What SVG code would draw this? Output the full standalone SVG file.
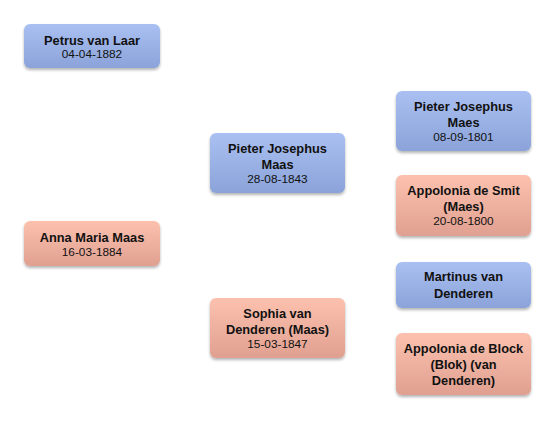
<svg xmlns="http://www.w3.org/2000/svg" width="556" height="421" viewBox="0 0 556 421">
<defs>
<linearGradient id="gb" x1="0" y1="0" x2="0" y2="1"><stop offset="0" stop-color="#aac0f2"/><stop offset="1" stop-color="#8ba3d9"/></linearGradient>
<linearGradient id="gp" x1="0" y1="0" x2="0" y2="1"><stop offset="0" stop-color="#fcc1ae"/><stop offset="1" stop-color="#e0a091"/></linearGradient>
<filter id="sh" x="-10%" y="-10%" width="120%" height="130%"><feGaussianBlur in="SourceAlpha" stdDeviation="1.5"/><feOffset dy="1.5" result="b"/><feComponentTransfer><feFuncA type="linear" slope="0.3"/></feComponentTransfer><feMerge><feMergeNode/><feMergeNode in="SourceGraphic"/></feMerge></filter>
<style>
.m rect{fill:url(#gb);filter:url(#sh)}
.f rect{fill:url(#gp);filter:url(#sh)}
text{font-family:"Liberation Sans",Arial,sans-serif;text-anchor:middle;fill:#111}
.n{font-weight:bold;font-size:12.8px}
.d{font-size:11.8px}
</style>
</defs>
<rect width="556" height="421" fill="#fff"/>
<g id="connectors"></g>
<g id="petrus" class="m"><rect x="24" y="24" width="136" height="44" rx="6"/><text class="n" x="92" y="45">Petrus van Laar</text><text class="d" x="92" y="58">04-04-1882</text></g>
<g id="anna" class="f"><rect x="24" y="221" width="136" height="45" rx="6"/><text class="n" x="92" y="242">Anna Maria Maas</text><text class="d" x="92" y="256">16-03-1884</text></g>
<g id="pieter-maas" class="m"><rect x="210" y="133" width="135" height="60" rx="6"/><text class="n" x="277.5" y="153">Pieter Josephus</text><text class="n" x="277.5" y="169">Maas</text><text class="d" x="277.5" y="183">28-08-1843</text></g>
<g id="sophia" class="f"><rect x="210" y="298" width="135" height="60" rx="6"/><text class="n" x="277.5" y="318">Sophia van</text><text class="n" x="277.5" y="334">Denderen (Maas)</text><text class="d" x="277.5" y="348">15-03-1847</text></g>
<g id="pieter-maes" class="m"><rect x="396" y="91" width="135" height="60" rx="6"/><text class="n" x="463.5" y="111">Pieter Josephus</text><text class="n" x="463.5" y="127">Maes</text><text class="d" x="463.5" y="141">08-09-1801</text></g>
<g id="appolonia-smit" class="f"><rect x="396" y="175" width="135" height="61" rx="6"/><text class="n" x="463.5" y="195">Appolonia de Smit</text><text class="n" x="463.5" y="211">(Maes)</text><text class="d" x="463.5" y="225">20-08-1800</text></g>
<g id="martinus" class="m"><rect x="396" y="262" width="135" height="46" rx="6"/><text class="n" x="463.5" y="281">Martinus van</text><text class="n" x="463.5" y="298">Denderen</text></g>
<g id="appolonia-block" class="f"><rect x="396" y="333" width="135" height="62" rx="6"/><text class="n" x="463.5" y="353">Appolonia de Block</text><text class="n" x="463.5" y="369">(Blok) (van</text><text class="n" x="463.5" y="385">Denderen)</text></g>
</svg>
